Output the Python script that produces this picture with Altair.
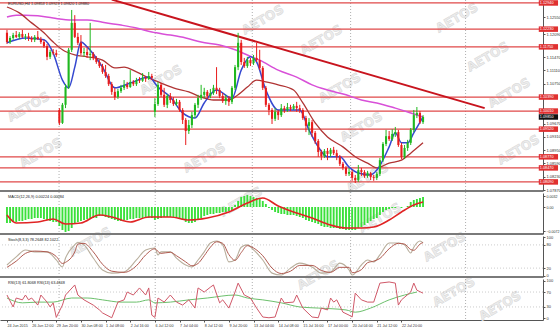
import altair as alt
import pandas as pd

# ---------------- EURUSD H4 price bars ----------------
opens = [1.1213,1.1188,1.1199,1.1207,1.1202,1.1210,1.1202,1.1204,1.1199,1.1194,
         1.1202,1.1196,1.1188,1.1177,1.1148,1.1161,1.1158,1.1004,1.0969,1.1018,
         1.1066,1.1167,1.1240,1.1202,1.1186,1.1158,1.1161,1.1153,1.1156,1.1145,
         1.1134,1.1123,1.1107,1.1096,1.1074,1.1053,1.1039,1.1055,1.1064,1.1072,
         1.1066,1.1080,1.1074,1.1085,1.1083,1.1091,1.1088,1.1096,1.0999,1.1020,
         1.1072,1.1045,1.1018,1.1042,1.1031,1.1020,1.1026,1.1004,1.0977,1.0947,
         1.0963,1.0990,1.1018,1.1036,1.1045,1.1053,1.1042,1.1050,1.1064,1.1058,
         1.1042,1.1028,1.1036,1.1026,1.1064,1.1120,1.1186,1.1134,1.1123,1.1139,
         1.1131,1.1145,1.1139,1.1118,1.1064,1.1018,1.1004,1.0980,1.0999,1.0990,
         1.1009,1.1004,1.1012,1.1007,1.1015,1.1009,1.1004,1.0982,1.0961,1.0971,
         1.0942,1.0920,1.0890,1.0879,1.0893,1.0885,1.0896,1.0887,1.0877,1.0858,
         1.0847,1.0831,1.0836,1.0820,1.0814,1.0841,1.0836,1.0825,1.0833,1.0822,
         1.0820,1.0831,1.0868,1.0912,1.0933,1.0925,1.0939,1.0944,1.0909,1.0877,
         1.0901,1.0915,1.0950,1.0990,1.0996,1.0971]
closes = [1.1188,1.1199,1.1207,1.1202,1.1210,1.1202,1.1204,1.1199,1.1194,1.1202,
          1.1196,1.1188,1.1177,1.1148,1.1161,1.1158,1.1153,1.0969,1.1018,1.1066,
          1.1167,1.1240,1.1202,1.1186,1.1158,1.1161,1.1153,1.1156,1.1145,1.1134,
          1.1123,1.1107,1.1096,1.1074,1.1053,1.1039,1.1055,1.1064,1.1072,1.1066,
          1.1080,1.1074,1.1085,1.1083,1.1091,1.1088,1.1096,1.1091,1.1020,1.1072,
          1.1045,1.1018,1.1042,1.1031,1.1020,1.1026,1.1004,1.0977,1.0947,1.0963,
          1.0990,1.1018,1.1036,1.1045,1.1053,1.1042,1.1050,1.1064,1.1058,1.1042,
          1.1028,1.1036,1.1026,1.1064,1.1120,1.1186,1.1134,1.1123,1.1139,1.1131,
          1.1145,1.1139,1.1118,1.1064,1.1018,1.1004,1.0980,1.0999,1.0990,1.1009,
          1.1004,1.1012,1.1007,1.1015,1.1009,1.1004,1.0982,1.0961,1.0971,1.0942,
          1.0920,1.0890,1.0879,1.0893,1.0885,1.0896,1.0887,1.0877,1.0858,1.0847,
          1.0831,1.0836,1.0820,1.0814,1.0841,1.0836,1.0825,1.0833,1.0822,1.0820,
          1.0831,1.0868,1.0912,1.0933,1.0925,1.0939,1.0944,1.0909,1.0877,1.0901,
          1.0915,1.0950,1.0990,1.0996,1.0971,1.0985]
highs = [1.1221,1.1204,1.1213,1.1218,1.1215,1.1221,1.1210,1.1213,1.1204,1.1207,
         1.1218,1.1202,1.1194,1.1183,1.1167,1.1169,1.1167,1.1009,1.1023,1.1074,
         1.1172,1.1275,1.1261,1.1213,1.1207,1.1172,1.1175,1.1240,1.1161,1.1150,
         1.1139,1.1129,1.1126,1.1102,1.1080,1.1064,1.1061,1.1072,1.1085,1.1080,
         1.1112,1.1085,1.1091,1.1093,1.1104,1.1096,1.1107,1.1102,1.1036,1.1080,
         1.1077,1.1064,1.1047,1.1050,1.1039,1.1034,1.1031,1.1009,1.0982,1.0977,
         1.0999,1.1023,1.1045,1.1072,1.1064,1.1058,1.1061,1.1072,1.1120,1.1064,
         1.1050,1.1045,1.1042,1.1069,1.1126,1.1213,1.1194,1.1145,1.1148,1.1145,
         1.1153,1.1186,1.1167,1.1123,1.1069,1.1023,1.1009,1.1009,1.1004,1.1020,
         1.1015,1.1023,1.1018,1.1020,1.1026,1.1018,1.1009,1.0988,1.0982,1.0977,
         1.0947,1.0925,1.0896,1.0898,1.0901,1.0901,1.0904,1.0896,1.0882,1.0863,
         1.0852,1.0847,1.0841,1.0828,1.0855,1.0847,1.0841,1.0839,1.0836,1.0828,
         1.0836,1.0874,1.0917,1.0950,1.0947,1.0952,1.0958,1.0950,1.0915,1.0909,
         1.0923,1.0955,1.1004,1.1012,1.1001,1.0990]
lows = [1.1183,1.1183,1.1194,1.1199,1.1196,1.1199,1.1194,1.1191,1.1188,1.1188,
        1.1194,1.1183,1.1172,1.1139,1.1142,1.1153,1.1148,1.0963,1.0966,1.1009,
        1.1061,1.1161,1.1199,1.1180,1.1153,1.1148,1.1145,1.1139,1.1139,1.1129,
        1.1118,1.1102,1.1091,1.1069,1.1045,1.1031,1.1034,1.1050,1.1058,1.1061,
        1.1064,1.1069,1.1069,1.1077,1.1080,1.1080,1.1085,1.1085,1.0985,1.1015,
        1.1039,1.1012,1.1009,1.1023,1.1015,1.1015,1.0999,1.0966,1.0909,1.0939,
        1.0955,1.0982,1.1009,1.1031,1.1036,1.1034,1.1036,1.1045,1.1047,1.1036,
        1.1023,1.1018,1.1015,1.1020,1.1058,1.1112,1.1126,1.1118,1.1118,1.1123,
        1.1126,1.1134,1.1112,1.1058,1.1012,1.0990,1.0966,1.0974,1.0977,1.0985,
        1.0996,1.0999,1.1001,1.1004,1.0999,1.0996,1.0977,1.0944,1.0936,1.0931,
        1.0912,1.0877,1.0868,1.0874,1.0868,1.0877,1.0882,1.0868,1.0852,1.0841,
        1.0825,1.0825,1.0812,1.0806,1.0809,1.0825,1.0820,1.0820,1.0814,1.0812,
        1.0814,1.0825,1.0863,1.0906,1.0920,1.0920,1.0931,1.0904,1.0871,1.0871,
        1.0893,1.0909,1.0944,1.0982,1.0966,1.0966]

# moving averages (bar index, value)
ma_fast_i = [0,6,12,15,18,20,22,24,26,31,35,40,46,49,53,57,61,64,68,73,
             76,79,81,84,88,95,98,101,104,108,111,114,118,120,124,126,128,130,132,135]
ma_fast_v = [1.1186,1.1199,1.1194,1.1158,1.1085,1.1064,1.1120,1.1188,1.1175,1.1120,
             1.1064,1.1077,1.1093,1.1066,1.1039,1.0996,1.0982,1.1023,1.1058,1.1036,
             1.1112,1.1148,1.1134,1.1058,1.1004,1.1004,1.0950,1.0904,1.0877,1.0877,
             1.0849,1.0833,1.0828,1.0841,1.0904,1.0942,1.0915,1.0915,1.0942,1.0985]
ma_mid_i = [0,4,8,12,15,18,22,26,31,35,38,42,46,50,54,59,63,67,72,75,
            78,81,84,88,93,96,100,104,109,113,117,120,124,128,131,135]
ma_mid_v = [1.1283,1.1267,1.1240,1.1213,1.1188,1.1167,1.1153,1.1148,1.1139,1.1118,
            1.1120,1.1107,1.1091,1.1077,1.1064,1.1053,1.1039,1.1031,1.1031,1.1045,
            1.1066,1.1085,1.1080,1.1072,1.1058,1.1023,1.0969,1.0931,1.0904,1.0877,
            1.0860,1.0847,1.0860,1.0868,1.0887,1.0915]
ma_slow_i = [0,3,6,10,15,21,26,31,37,42,47,53,58,63,69,74,78,82,88,94,
             99,104,110,115,120,126,131,135]
ma_slow_v = [1.1256,1.1261,1.1261,1.1259,1.1253,1.1248,1.1248,1.1242,1.1234,1.1226,
             1.1215,1.1207,1.1199,1.1188,1.1180,1.1167,1.1153,1.1139,1.1112,1.1093,
             1.1072,1.1058,1.1045,1.1031,1.1023,1.1009,1.0996,1.0985]

trend_i = [34, 155]
trend_v = [1.1303, 1.1009]

levels = [1.1294, 1.1223, 1.1175, 1.1039, 1.1001, 1.0952, 1.0877, 1.0847, 1.0809]
price_ticks = [1.1255, 1.1209, 1.1147, 1.1111, 1.1075, 1.0967, 1.0931, 1.0895,
               1.0859, 1.0823, 1.0787]

# ---------------- MACD ----------------
macd_hist = [-0.0048,-0.0048,-0.0045,-0.0045,-0.0042,-0.0042,
             -0.0039,-0.0036,-0.0036,-0.0033,-0.0033,-0.0033,-0.0036,
             -0.0039,-0.0042,-0.0045,-0.0045,
             -0.0057,-0.0069,-0.0075,-0.0072,-0.0063,-0.0051,-0.0045,-0.0042,-0.0039,-0.0036,-0.0033,-0.0033,-0.0033,
             -0.0027,-0.0027,-0.0030,-0.0033,-0.0036,
             -0.0039,-0.0042,-0.0042,-0.0039,-0.0039,-0.0036,-0.0036,-0.0033,-0.0033,-0.0033,-0.0033,-0.0033,-0.0033,
             -0.0039,-0.0036,-0.0033,-0.0030,-0.0030,-0.0030,-0.0030,-0.0030,-0.0033,-0.0039,
             -0.0045,-0.0048,-0.0048,-0.0045,-0.0039,-0.0033,
             -0.0027,-0.0024,-0.0021,-0.0021,-0.0018,-0.0018,-0.0015,-0.0015,-0.0012,-0.0009,
             0.0006,0.0018,0.0030,0.0033,0.0036,0.0033,0.0030,
             0.0027,0.0024,0.0018,0.0009,
             -0.0003,-0.0009,-0.0015,-0.0018,
             -0.0021,-0.0021,-0.0024,-0.0024,-0.0024,-0.0027,-0.0030,-0.0033,-0.0039,-0.0042,-0.0045,
             -0.0048,-0.0051,-0.0057,-0.0060,-0.0060,-0.0063,-0.0063,-0.0063,-0.0066,-0.0066,-0.0069,-0.0069,-0.0069,-0.0069,
             -0.0063,-0.0060,-0.0054,-0.0048,-0.0042,-0.0036,-0.0033,
             -0.0024,-0.0015,-0.0009,-0.0006,-0.0003,-0.0003,0.0,
             -0.0003,0.0,0.0003,
             0.0015,0.0021,0.0024,0.0027,0.0030]
macd_sig_i = [0,3,10,15,19,24,30,34,40,46,53,59,65,72,78,83,88,94,99,105,110,115,119,124,128,132,135]
macd_sig_v = [-0.0024,-0.0048,-0.0045,-0.0036,-0.0051,-0.0048,-0.0024,-0.0030,-0.0045,-0.0030,
              -0.0030,-0.0039,-0.0033,-0.0015,0.0012,0.0027,0.0003,-0.0018,-0.0033,-0.0054,
              -0.0063,-0.0063,-0.0060,-0.0039,-0.0015,0.0006,0.0015]
macd_ticks = [0.0032, 0.0, -0.0072]

# ---------------- Stochastic ----------------
stoch_i = [0,3,6,9,13,16,18,19,22,23,25,28,31,34,38,42,45,48,49,50,
           53,55,58,60,62,64,66,68,70,72,74,76,78,80,83,86,89,92,95,99,
           102,105,108,111,112,115,117,119,121,124,127,129,131,132,134,135]
stoch_main = [28,49,67,62,62,41,23,46,80,87,80,46,15,7,10,41,67,72,54,62,
              62,46,28,23,41,62,85,90,80,36,41,74,80,67,41,7,2,20,33,23,
              7,10,33,15,2,28,41,36,54,85,85,80,59,74,90,85]
stoch_signal = [22,38,58,64,62,50,32,35,62,82,84,62,30,12,9,26,54,70,63,58,
                61,52,36,26,32,52,74,88,84,55,40,60,78,72,52,20,6,12,27,27,
                14,9,22,22,8,16,34,38,45,70,84,82,68,66,82,86]
stoch_levels = [80, 20]
stoch_ticks = [100, 80, 20, 0]

# ---------------- RSI ----------------
rsi_i = [0,2,3,5,6,7,8,10,11,13,14,15,16,18,19,22,23,25,28,30,
         31,34,36,38,39,41,43,45,46,47,48,49,51,53,55,57,59,61,62,64,
         66,67,69,70,72,74,75,77,79,81,83,85,87,89,90,93,94,96,99,101,
         102,104,105,106,107,109,111,112,113,115,117,119,121,124,126,127,128,131,132,133,135]
rsi_v = [62,30,54,49,62,49,54,35,62,43,30,41,2,35,62,89,62,49,35,22,
         14,1,43,49,70,62,81,62,81,8,2,54,43,62,43,35,49,27,81,70,
         83,89,41,49,27,70,94,62,54,27,3,1,3,54,41,43,62,27,3,1,
         27,22,54,43,49,16,8,3,67,49,43,43,94,97,94,35,49,70,94,75,67]
rsi_ma_i = [0,5,10,15,21,26,31,37,42,46,48,53,59,65,74,78,83,89,95,101,110,113,118,124,129,133]
rsi_ma_v = [54,41,43,43,54,54,49,43,43,49,41,43,49,54,62,54,49,41,30,27,22,16,27,49,62,70]
rsi_levels = [70, 30]
rsi_ticks = [100, 70, 30, 0]

# ---------------- time axis ----------------
week_lines = [16.9, 48.1, 79.6, 111.5, 148.8]
xlabel_idx = [0, 8, 16, 24, 32, 40, 48, 56, 64, 72, 80, 88, 96, 104, 112, 120, 128]
xlabels = ["24 Jun 2015", "26 Jun 12:00", "29 Jun 20:00", "30 Jun 08:00", "1 Jul 08:00",
           "2 Jul 16:00", "6 Jul 12:00", "7 Jul 04:00", "8 Jul 12:00", "9 Jul 20:00",
           "13 Jul 04:00", "14 Jul 08:00", "15 Jul 16:00", "17 Jul 00:00", "20 Jul 04:00",
           "21 Jul 12:00", "22 Jul 20:00"]

titles = {"main": "EURUSD,H4  1.09853 1.09923 1.09820 1.09880",
          "macd": "MACD(12,26,9) 0.00224 0.00084",
          "stoch": "Stoch(8,3,3) 78.2648 82.1022",
          "rsi": "RSI(13) 61.8068  RSI(13) 63.4848"}

# watermark positions (bar index, page row)
wm_i = [83, 50, 7, 11, 64, 146, 102, 156, 108, 163, 115, 166, 117, 27, 76, 142, 121, 145, 101, 160]
wm_y = [20, 80, 107, 153, 158, 18, 40, 57, 88, 93, 127, 150, 178, 242, 202, 247, 218, 292, 275, 306]

# ---------------- layout / style ----------------
FONT = "Liberation Sans"
UP, DN = "#1fb81f", "#e81c1c"
X_DOMAIN = [-0.64, 172.3]
MAIN_DOMAIN, MAIN_RANGE = [1.07844, 1.1302], [191, 0]
MACD_DOMAIN, MACD_RANGE = [-0.0081, 0.0042], [234, 193]
STO_DOMAIN, STO_RANGE = [-3, 103], [277, 236]
RSI_DOMAIN, RSI_RANGE = [-5, 105], [320, 279]
PAGE_DOMAIN = [0, 320]

xs = alt.Scale(domain=X_DOMAIN, zero=False, nice=False)
lab_expr = ("[" + ",".join(f"'{s}'" for s in xlabels) + "][indexof(["
            + ",".join(str(v) for v in xlabel_idx) + "], datum.value)]")
xaxis = alt.Axis(values=xlabel_idx, labelExpr=lab_expr, title=None, grid=False,
                 labelAlign="left", labelBaseline="top", labelFontSize=3.7,
                 labelFont=FONT, labelColor="#333", labelPadding=1, tickSize=2,
                 tickColor="#555", domainColor="#555", labelOverlap=False,
                 labelFlush=False)


def X(field="i"):
    return alt.X(f"{field}:Q", scale=xs, axis=xaxis)


def ysc(dom, rng):
    return alt.Scale(domain=dom, range=rng, zero=False, nice=False)


def raxis(values, fmt=None, expr=None, size=4):
    kw = dict(orient="right", values=values, title=None, grid=False,
              labelFontSize=size, labelFont=FONT, labelColor="#333", labelPadding=1,
              tickSize=2, tickColor="#555", domainColor="#555", labelOverlap=False,
              labelFlush=False)
    if fmt:
        kw["format"] = fmt
    if expr:
        kw["labelExpr"] = expr
    return alt.Axis(**kw)


main_s = ysc(MAIN_DOMAIN, MAIN_RANGE)
macd_s = ysc(MACD_DOMAIN, MACD_RANGE)
sto_s = ysc(STO_DOMAIN, STO_RANGE)
rsi_s = ysc(RSI_DOMAIN, RSI_RANGE)
page_s = ysc(PAGE_DOMAIN, PAGE_DOMAIN)

n = len(closes)
bars = pd.DataFrame({"i": list(range(n)), "o": opens, "h": highs, "l": lows, "c": closes})
bars["dir"] = ["up" if c >= o else "down" for o, c in zip(opens, closes)]
dir_color = alt.Color("dir:N", scale=alt.Scale(domain=["up", "down"], range=[UP, DN]), legend=None)

layers = []

# watermarks
wm = pd.DataFrame({"i": wm_i, "y": wm_y, "t": "AETOS"})
layers.append(alt.Chart(wm).mark_text(fontSize=12.5, fontWeight="bold", font="DejaVu Sans",
                                      angle=330, fill="#ececec", stroke="#d6d6d6",
                                      strokeWidth=0.5).encode(
    x=X(), y=alt.Y("y:Q", scale=page_s, axis=None), text="t:N"))

# vertical dotted grid
layers.append(alt.Chart(pd.DataFrame({"i": week_lines})).mark_rule(
    color="#9a9a9a", strokeDash=[1, 2], strokeWidth=0.8).encode(x=X()))

# main panel: horizontal levels (carries the price axis)
lv = pd.DataFrame({"y": levels, "x0": X_DOMAIN[1] + 0.25, "x1": X_DOMAIN[1] + 6.5,
                   "lab": [f"{v:.5f}" for v in levels]})
layers.append(alt.Chart(lv).mark_rule(color="#e04848", strokeWidth=1.2).encode(
    y=alt.Y("y:Q", scale=main_s, axis=raxis(price_ticks, fmt=".5f"))))

# trend line
layers.append(alt.Chart(pd.DataFrame({"i": trend_i, "v": trend_v})).mark_line(
    color="#c8141e", strokeWidth=2, clip=True).encode(
    x=X(), y=alt.Y("v:Q", scale=main_s, axis=None)))

# moving averages
for mi, mv, col, sw in [(ma_slow_i, ma_slow_v, "#d850d8", 1.5),
                        (ma_mid_i, ma_mid_v, "#b03434", 1.3),
                        (ma_fast_i, ma_fast_v, "#3548d0", 1.5)]:
    layers.append(alt.Chart(pd.DataFrame({"i": mi, "v": mv})).mark_line(
        color=col, strokeWidth=sw, interpolate="monotone").encode(
        x=X(), y=alt.Y("v:Q", scale=main_s, axis=None)))

# candles
layers.append(alt.Chart(bars).mark_rule(strokeWidth=1).encode(
    x=X(), y=alt.Y("l:Q", scale=main_s, axis=None), y2="h:Q", color=dir_color))
layers.append(alt.Chart(bars).mark_bar(size=2.1).encode(
    x=X(), y=alt.Y("o:Q", scale=main_s, axis=None), y2="c:Q", color=dir_color))

# level boxes on the price scale
layers.append(alt.Chart(lv).mark_rule(color="#e03030", strokeWidth=5.5).encode(
    x=X("x0"), x2="x1:Q", y=alt.Y("y:Q", scale=main_s, axis=None)))
layers.append(alt.Chart(lv).mark_text(align="left", baseline="middle", dx=1, fontSize=3.8,
                                      font=FONT, color="white").encode(
    x=X("x0"), y=alt.Y("y:Q", scale=main_s, axis=None), text="lab:N"))
cur = pd.DataFrame({"y": [closes[-1]], "x0": [X_DOMAIN[1] + 0.25], "x1": [X_DOMAIN[1] + 6.5],
                    "lab": [f"{closes[-1]:.5f}"]})
layers.append(alt.Chart(cur).mark_rule(color="#111", strokeWidth=5.5).encode(
    x=X("x0"), x2="x1:Q", y=alt.Y("y:Q", scale=main_s, axis=None)))
layers.append(alt.Chart(cur).mark_text(align="left", baseline="middle", dx=1, fontSize=3.8,
                                       font=FONT, color="white").encode(
    x=X("x0"), y=alt.Y("y:Q", scale=main_s, axis=None), text="lab:N"))

# MACD
md = pd.DataFrame({"i": list(range(len(macd_hist))), "v": macd_hist})
layers.append(alt.Chart(md).mark_bar(size=1.9, color="#3ae03a").encode(
    x=X(), y=alt.Y("v:Q", scale=macd_s,
                   axis=raxis(macd_ticks, size=3.6,
                              expr="datum.value == 0 ? '0.00' : format(datum.value, '.4f')")),
    y2=alt.datum(0)))
layers.append(alt.Chart(pd.DataFrame({"i": macd_sig_i, "v": macd_sig_v})).mark_line(
    color="#e02424", strokeWidth=1.6, interpolate="monotone").encode(
    x=X(), y=alt.Y("v:Q", scale=macd_s, axis=None)))

# Stochastic
layers.append(alt.Chart(pd.DataFrame({"v": stoch_levels})).mark_rule(
    color="#c0c0c0", strokeDash=[1, 2], strokeWidth=0.8).encode(
    y=alt.Y("v:Q", scale=sto_s, axis=raxis(stoch_ticks, fmt="d"))))
layers.append(alt.Chart(pd.DataFrame({"i": stoch_i, "v": stoch_main})).mark_line(
    color="#b8ae9c", strokeWidth=1.1, interpolate="monotone").encode(
    x=X(), y=alt.Y("v:Q", scale=sto_s, axis=None)))
layers.append(alt.Chart(pd.DataFrame({"i": stoch_i, "v": stoch_signal})).mark_line(
    color="#b05a50", strokeWidth=1.0, interpolate="monotone").encode(
    x=X(), y=alt.Y("v:Q", scale=sto_s, axis=None)))

# RSI
layers.append(alt.Chart(pd.DataFrame({"v": rsi_levels})).mark_rule(
    color="#c0c0c0", strokeDash=[1, 2], strokeWidth=0.8).encode(
    y=alt.Y("v:Q", scale=rsi_s, axis=raxis(rsi_ticks, fmt="d"))))
layers.append(alt.Chart(pd.DataFrame({"i": rsi_ma_i, "v": rsi_ma_v})).mark_line(
    color="#6cc06c", strokeWidth=1.0, interpolate="monotone").encode(
    x=X(), y=alt.Y("v:Q", scale=rsi_s, axis=None)))
layers.append(alt.Chart(pd.DataFrame({"i": rsi_i, "v": rsi_v})).mark_line(
    color="#d05868", strokeWidth=1.0).encode(
    x=X(), y=alt.Y("v:Q", scale=rsi_s, axis=None)))

# panel separators (bottom edge of each upper panel)
for dom, sc in [(MAIN_DOMAIN, main_s), (MACD_DOMAIN, macd_s), (STO_DOMAIN, sto_s)]:
    layers.append(alt.Chart(pd.DataFrame({"v": [dom[0]]})).mark_rule(
        color="#7a7a7a", strokeWidth=2).encode(y=alt.Y("v:Q", scale=sc, axis=None)))

# panel titles
for key, dom, sc in [("main", MAIN_DOMAIN, main_s), ("macd", MACD_DOMAIN, macd_s),
                     ("stoch", STO_DOMAIN, sto_s), ("rsi", RSI_DOMAIN, rsi_s)]:
    t = pd.DataFrame({"i": [X_DOMAIN[0]], "v": [dom[1]], "t": [titles[key]]})
    layers.append(alt.Chart(t).mark_text(align="left", baseline="top", dx=3, dy=1.5,
                                         fontSize=3.8, font=FONT, color="#222").encode(
        x=X(), y=alt.Y("v:Q", scale=sc, axis=None), text="t:N"))

chart = alt.layer(*layers).resolve_scale(y="independent").properties(
    width=543, height=320,
    autosize=alt.AutoSizeParams(type="none"),
    padding={"left": 0, "top": 0, "right": 17, "bottom": 9},
    background="white",
).configure_view(stroke=None)

chart.save("out.html", embed_options={"renderer": "svg", "actions": False})
